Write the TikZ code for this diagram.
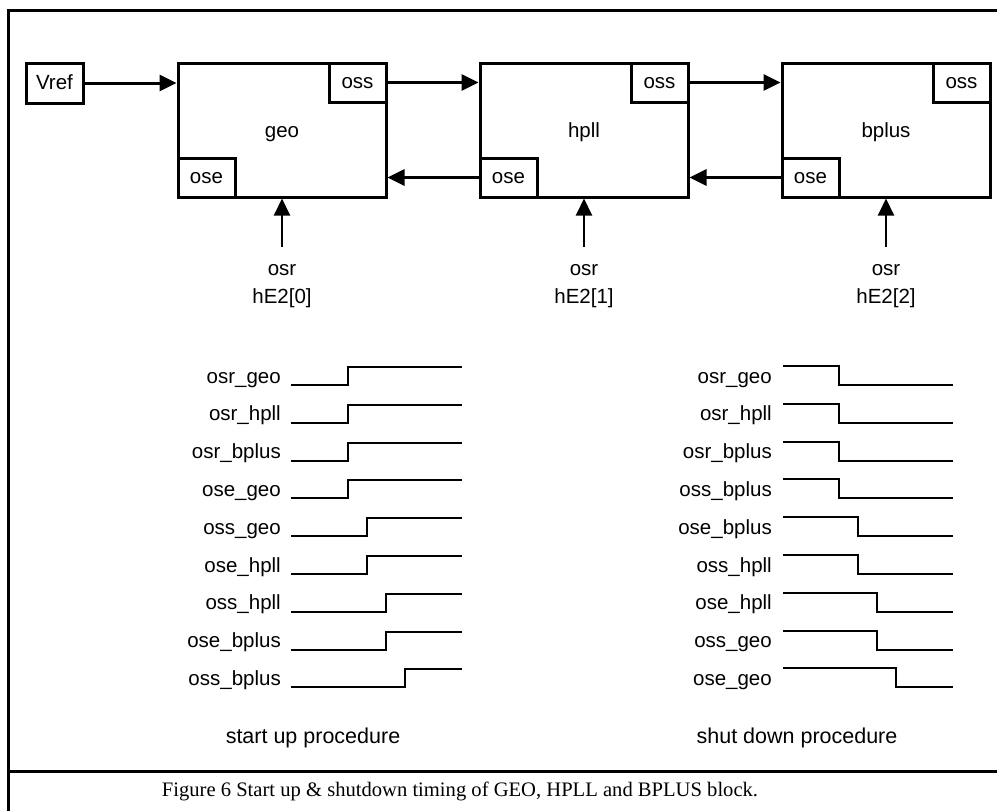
\documentclass[tikz,border=0pt]{standalone}
\usepackage{fontspec}
\setmainfont{Liberation Sans}
\newfontfamily\capfont{Liberation Serif}
\usetikzlibrary{arrows.meta,calc}
\begin{document}
\begin{tikzpicture}[x=1pt,y=-1pt,
  blk/.style={draw, line width=3pt, rectangle, inner sep=0pt, minimum width=208pt, minimum height=134pt},
  port/.style={draw, line width=3pt, rectangle, inner sep=0pt, minimum width=57pt, minimum height=39pt, text height=15pt, text depth=3pt, font=\fontsize{20.5}{24}\selectfont},
  sig/.style={line width=3pt, -{Triangle[length=17pt,width=16pt]}},
  osrarr/.style={line width=2pt, -{Triangle[length=17pt,width=16pt]}},
  wave/.style={line width=2pt},
  lbl/.style={font=\fontsize{20.5}{24}\selectfont, anchor=base east, inner sep=0pt},
  txt/.style={font=\fontsize{20.5}{24}\selectfont, inner sep=0pt, anchor=base},
  captxt/.style={font=\fontsize{21.5}{24}\selectfont, inner sep=0pt, anchor=base}
]
\clip (0,0) rectangle (997,811);
\fill[white] (0,0) rectangle (997,811);
% frame
\draw[line width=3pt] (1010,10) -- (8,10) -- (8,830);
\draw[line width=3pt] (8,771) -- (1010,771);

% blocks
\node[blk] (geo) at (282,130) {};
\node[blk] (hpll) at (584,130) {};
\node[blk] (bplus) at (886,130) {};
\node[txt] (geot) at (282,137) {geo};
\node[txt] (hpllt) at (584,137) {hpll};
\node[txt] (bplust) at (886,137) {bplus};

\node[port, minimum height=40pt, text height=16pt] (vref) at (54.5,83) {Vref};
\node[port, anchor=north east] (geooss) at (geo.north east) {oss};
\node[port, anchor=south west] (geoose) at (geo.south west) {ose};
\node[port, anchor=north east] (hplloss) at (hpll.north east) {oss};
\node[port, anchor=south west] (hpllose) at (hpll.south west) {ose};
\node[port, anchor=north east] (bplusoss) at (bplus.north east) {oss};
\node[port, anchor=south west] (bplusose) at (bplus.south west) {ose};

\draw[sig] (vref.east) -- (vref.east -| geo.west);
\draw[sig] (geooss.east) -- (geooss.east -| hpll.west);
\draw[sig] (hplloss.east) -- (hplloss.east -| bplus.west);
\draw[sig] (hpllose.west) -- (hpllose.west -| geo.east);
\draw[sig] (bplusose.west) -- (bplusose.west -| hpll.east);

% osr inputs
\coordinate (s0) at (282,247);
\coordinate (s1) at (584,247);
\coordinate (s2) at (886,247);
\draw[osrarr] (s0) -- (geo.south);
\draw[osrarr] (s1) -- (hpll.south);
\draw[osrarr] (s2) -- (bplus.south);
\node[txt] (o0a) at (282,275) {osr};
\node[txt] (o0b) at (282,303) {hE2[0]};
\node[txt] (o1a) at (584,275) {osr};
\node[txt] (o1b) at (584,303) {hE2[1]};
\node[txt] (o2a) at (886,275) {osr};
\node[txt] (o2b) at (886,303) {hE2[2]};

% start up timing
\foreach \nm/\st [count=\i from 0] in {osr\_geo/348,osr\_hpll/348,osr\_bplus/348,ose\_geo/348,oss\_geo/367,ose\_hpll/367,oss\_hpll/386,ose\_bplus/386,oss\_bplus/405}{
  \pgfmathsetmacro\yl{385+37.8*\i}
  \node[lbl] (L\i) at (281,\yl-2) {\nm};
  \draw[wave] (291,\yl) -- (\st,\yl) -- (\st,\yl-18) -- (462,\yl-18);
}
% shut down timing
\foreach \nm/\st [count=\i from 0] in {osr\_geo/839,osr\_hpll/839,osr\_bplus/839,oss\_bplus/839,ose\_bplus/858,oss\_hpll/858,ose\_hpll/877,oss\_geo/877,ose\_geo/896}{
  \pgfmathsetmacro\yl{385+37.8*\i}
  \node[lbl] (R\i) at (772,\yl-2) {\nm};
  \draw[wave] (783,\yl-19) -- (\st,\yl-19) -- (\st,\yl) -- (953,\yl);
}
\node[captxt] (sup) at (313,743) {start up procedure};
\node[captxt] (sdn) at (797,743) {shut down procedure};

\node[anchor=base, inner sep=0pt, font=\capfont\fontsize{20.6}{24}\selectfont] (cap) at (460,796) {Figure 6 Start up \& shutdown timing of GEO, HPLL and BPLUS block.};
\end{tikzpicture}
\end{document}
